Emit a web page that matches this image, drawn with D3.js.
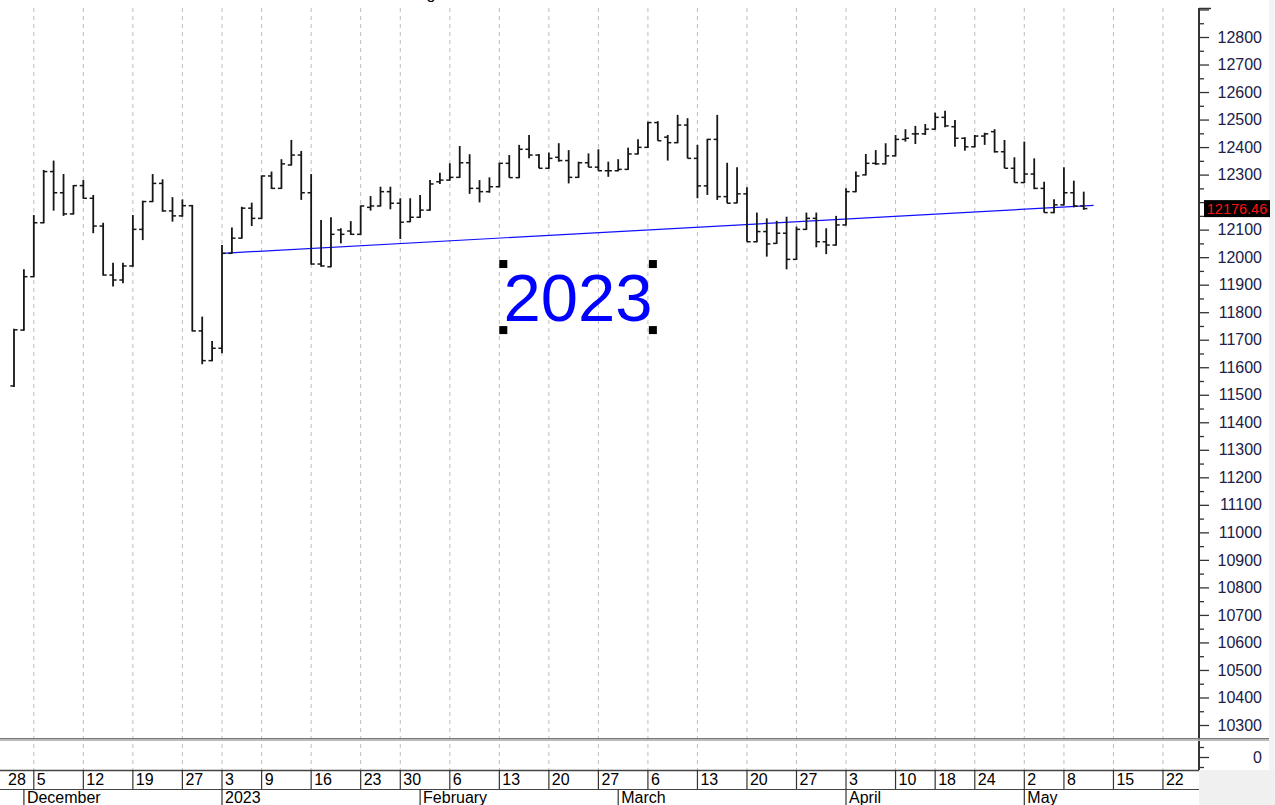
<!DOCTYPE html>
<html lang="en">
<head>
<meta charset="UTF-8">
<title>Daily bars Dec 2022 - May 2023</title>
<script src="https://cdn.jsdelivr.net/npm/d3@7"></script>
<style>
  body { margin: 0; background: #fff; }
  svg { display: block; font-family: Arial, "Liberation Sans", sans-serif; }
</style>
</head>
<body>
<svg id="chart" width="1275" height="805"></svg>
<script>
// calendar of the date axis: weekdays minus exchange holidays
const firstDay = "2022-11-28", lastDay = "2023-05-26";
const holidays = ["2022-12-01", "2022-12-26", "2023-01-02", "2023-01-24", "2023-04-14", "2023-04-17", "2023-05-01"];
const firstBar = "2022-11-30";

// daily OHLC
const opens = [11532, 11735, 11929, 12125, 12311, 12234, 12157, 12260, 12214, 12113,
  11935, 11917, 11968, 12101, 12202, 12268, 12168, 12150, 12187, 11732,
  11624, 11669, 12014, 12069, 12178, 12141, 12295, 12250, 12335, 12371,
  12234, 11975, 11965, 12099, 12095, 12083, 12181, 12186, 12238, 12196,
  12129, 12145, 12171, 12274, 12280, 12290, 12343, 12250, 12238, 12256,
  12341, 12289, 12392, 12371, 12323, 12363, 12351, 12290, 12343, 12327,
  12314, 12314, 12319, 12375, 12399, 12489, 12436, 12416, 12480, 12359,
  12259, 12428, 12220, 12197, 12230, 12056, 12093, 12050, 12087, 11992,
  12101, 12141, 12056, 12044, 12117, 12238, 12299, 12341, 12339, 12368,
  12428, 12448, 12448, 12465, 12508, 12474, 12432, 12401, 12440, 12456,
  12383, 12323, 12271, 12302, 12250, 12162, 12190, 12234, 12186];
const highs = [11740, 11956, 12153, 12317, 12351, 12302, 12262, 12280, 12226, 12125,
  11980, 11980, 12153, 12205, 12302, 12283, 12218, 12210, 12190, 11784,
  11695, 12044, 12108, 12183, 12198, 12297, 12311, 12356, 12426, 12386,
  12302, 12135, 12145, 12105, 12131, 12188, 12222, 12256, 12256, 12214,
  12214, 12226, 12280, 12307, 12341, 12404, 12374, 12280, 12290, 12343,
  12371, 12408, 12444, 12375, 12380, 12414, 12389, 12347, 12377, 12392,
  12347, 12356, 12398, 12428, 12492, 12494, 12444, 12517, 12505, 12408,
  12430, 12517, 12343, 12327, 12254, 12162, 12141, 12132, 12147, 12111,
  12162, 12162, 12105, 12150, 12250, 12311, 12375, 12389, 12414, 12444,
  12465, 12477, 12484, 12525, 12532, 12498, 12436, 12444, 12452, 12465,
  12426, 12363, 12420, 12359, 12274, 12210, 12327, 12278, 12238];
const lows = [11528, 11733, 11927, 12123, 12169, 12150, 12155, 12212, 12087, 11933,
  11893, 11905, 11965, 12062, 12200, 12165, 12129, 12147, 11730, 11611,
  11622, 11651, 12012, 12067, 12113, 12139, 12248, 12248, 12333, 12208,
  11973, 11965, 11963, 12050, 12081, 12081, 12169, 12184, 12174, 12066,
  12127, 12143, 12169, 12266, 12278, 12288, 12230, 12199, 12234, 12254,
  12289, 12287, 12359, 12323, 12321, 12347, 12268, 12288, 12327, 12314,
  12292, 12312, 12317, 12373, 12397, 12423, 12351, 12414, 12359, 12214,
  12226, 12208, 12196, 12196, 12056, 12054, 12002, 12048, 11956, 11990,
  12099, 12036, 12011, 12042, 12115, 12236, 12297, 12335, 12337, 12366,
  12420, 12411, 12444, 12463, 12472, 12401, 12387, 12399, 12408, 12380,
  12323, 12271, 12269, 12247, 12162, 12160, 12188, 12181, 12172];
const closes = [11736, 11929, 12125, 12311, 12234, 12157, 12260, 12214, 12113, 11935,
  11917, 11968, 12101, 12202, 12268, 12168, 12150, 12187, 11732, 11624,
  11669, 12014, 12069, 12178, 12141, 12295, 12250, 12339, 12371, 12234,
  11975, 11968, 12083, 12083, 12083, 12186, 12186, 12238, 12196, 12127,
  12145, 12171, 12266, 12280, 12290, 12343, 12250, 12238, 12256, 12341,
  12289, 12392, 12371, 12323, 12359, 12351, 12290, 12343, 12327, 12314,
  12314, 12319, 12375, 12399, 12489, 12423, 12416, 12480, 12359, 12259,
  12428, 12220, 12196, 12230, 12056, 12093, 12048, 12087, 11992, 12101,
  12141, 12056, 12044, 12117, 12238, 12295, 12341, 12339, 12368, 12428,
  12432, 12448, 12465, 12508, 12477, 12432, 12401, 12440, 12448, 12383,
  12323, 12271, 12302, 12250, 12162, 12190, 12234, 12186, 12176.46];

// date axis labels
const weekStarts = ["2022-11-28", "2022-12-05", "2022-12-12", "2022-12-19", "2022-12-27", "2023-01-03",
  "2023-01-09", "2023-01-16", "2023-01-23", "2023-01-30", "2023-02-06", "2023-02-13", "2023-02-20",
  "2023-02-27", "2023-03-06", "2023-03-13", "2023-03-20", "2023-03-27", "2023-04-03", "2023-04-10",
  "2023-04-18", "2023-04-24", "2023-05-02", "2023-05-08", "2023-05-15", "2023-05-22"];
const weekLabels = ["28", "5", "12", "19", "27", "3", "9", "16", "23", "30", "6", "13", "20",
  "27", "6", "13", "20", "27", "3", "10", "18", "24", "2", "8", "15", "22"];
const monthStarts = ["2022-12-02", "2023-01-03", "2023-02-01", "2023-03-01", "2023-04-03", "2023-05-02"];
const monthLabels = ["December", "2023", "February", "March", "April", "May"];

// price axis
const priceTicks = d3.range(10300, 12901, 100);
const priceMinor = d3.range(10350, 12901, 100);

// drawn objects: trend line and the selected text box
const trendFrom = ["2023-01-03", 12014], trendTo = ["2023-05-11", 12188];
const note = { text: "2023", fromBar: 49.4, toBar: 64.5, top: 11975, bottom: 11735 };

const W = 1275, H = 805;
const axisX = 1199, paneTop = 8, paneBottom = 738, lowerBottom = 770, dayRowBottom = 789;
const step = 9.905, firstBarX = 14;

const svg = d3.select("#chart");

const fmt = d3.utcFormat("%Y-%m-%d");
const days = d3.utcDays(new Date(firstDay), d3.utcDay.offset(new Date(lastDay), 1))
  .filter(d => d.getUTCDay() % 6 !== 0)
  .map(fmt)
  .filter(s => !holidays.includes(s));
const dayIndex = new Map(days.map((s, i) => [s, i]));
const i0 = dayIndex.get(firstBar);

const x = d3.scaleLinear().domain([i0, i0 + 1]).range([firstBarX, firstBarX + step]);
const y = d3.scaleLinear().domain([10300, 12800]).range([725, 37]);
const y2 = d3.scaleLinear().domain([-1, 1]).range([767, 747]);
const xd = s => x(dayIndex.get(s));

const bars = opens.map((o, k) => ({ i: i0 + k, o, h: highs[k], l: lows[k], c: closes[k] }));

// backgrounds
svg.append("rect").attr("width", W).attr("height", H).attr("fill", "#fff");
svg.append("rect").attr("x", axisX).attr("y", lowerBottom).attr("width", W - axisX).attr("height", H - lowerBottom)
  .attr("fill", "#f0f0f0");
svg.append("rect").attr("x", 1269).attr("y", 0).attr("width", W - 1269).attr("height", lowerBottom)
  .attr("fill", "#f3f3f3");

// top title (cut off by the window edge in the original too)
svg.append("text").attr("x", 431).attr("y", -1).attr("text-anchor", "middle")
  .attr("font-size", 16).attr("fill", "#000").text("g");

// week grid
svg.append("g").selectAll("line").data(weekStarts).join("line")
  .attr("x1", d => xd(d)).attr("x2", d => xd(d))
  .attr("y1", paneTop).attr("y2", lowerBottom)
  .attr("stroke", "#bdbdbd").attr("stroke-width", 1).attr("stroke-dasharray", "4,4");

// trend line
svg.append("line")
  .attr("x1", xd(trendFrom[0])).attr("y1", y(trendFrom[1]))
  .attr("x2", xd(trendTo[0])).attr("y2", y(trendTo[1]))
  .attr("stroke", "#1010ff").attr("stroke-width", 1.2);

// OHLC bars
const gb = svg.append("g").attr("stroke", "#161616");
gb.selectAll(".hl").data(bars).join("line")
  .attr("x1", d => x(d.i)).attr("x2", d => x(d.i))
  .attr("y1", d => y(d.h)).attr("y2", d => y(d.l))
  .attr("stroke-width", 1.8);
gb.selectAll(".op").data(bars).join("line")
  .attr("x1", d => x(d.i) - 3.6).attr("x2", d => x(d.i))
  .attr("y1", d => y(d.o)).attr("y2", d => y(d.o))
  .attr("stroke-width", 1.5);
gb.selectAll(".cl").data(bars).join("line")
  .attr("x1", d => x(d.i)).attr("x2", d => x(d.i) + 3.6)
  .attr("y1", d => y(d.c)).attr("y2", d => y(d.c))
  .attr("stroke-width", 1.5);

// text annotation with selection handles
const nx0 = x(i0 + note.fromBar), nx1 = x(i0 + note.toBar);
const ny0 = y(note.top), ny1 = y(note.bottom);
const noteSize = 67;
svg.append("text").attr("x", (nx0 + nx1) / 2).attr("y", (ny0 + ny1) / 2 + noteSize * 0.358)
  .attr("text-anchor", "middle").attr("font-size", noteSize).attr("fill", "#0000ff")
  .text(note.text);
svg.append("g").selectAll("rect").data([[nx0, ny0], [nx1, ny0], [nx0, ny1], [nx1, ny1]]).join("rect")
  .attr("x", d => d[0] - 4).attr("y", d => d[1] - 4).attr("width", 8).attr("height", 8)
  .attr("fill", "#000");

// right price axis
const ya = svg.append("g").attr("transform", `translate(${axisX},0)`);
const lastClose = closes[closes.length - 1];
ya.call(d3.axisRight(y).tickValues(priceTicks).tickSize(10).tickSizeOuter(0)
  .tickFormat(d => d <= 12800 ? d : ""));
ya.select(".domain").remove();
ya.selectAll("text").attr("x", 1262 - axisX).attr("text-anchor", "end")
  .attr("font-size", 16).attr("fill", "#20204a").attr("font-family", "Arial, 'Liberation Sans', sans-serif")
  .filter(d => Math.abs(y(d) - y(lastClose)) < 14).remove();
ya.selectAll(".tick line").attr("stroke", "#333").attr("stroke-width", 1.3);
const ym = svg.append("g").attr("transform", `translate(${axisX},0)`)
  .call(d3.axisRight(y).tickValues(priceMinor).tickSize(5).tickFormat(""));
ym.select(".domain").remove();
ym.selectAll(".tick line").attr("stroke", "#333").attr("stroke-width", 1.3);

// lower pane axis
const ya2 = svg.append("g").attr("transform", `translate(${axisX},0)`)
  .call(d3.axisRight(y2).tickValues([0]).tickSize(10).tickSizeOuter(0).tickFormat(d3.format("d")));
ya2.select(".domain").remove();
ya2.selectAll("text").attr("x", 1262 - axisX).attr("text-anchor", "end")
  .attr("font-size", 16).attr("fill", "#20204a").attr("font-family", "Arial, 'Liberation Sans', sans-serif");
ya2.selectAll(".tick line").attr("stroke", "#333").attr("stroke-width", 1.3);
const ym2 = svg.append("g").attr("transform", `translate(${axisX},0)`)
  .call(d3.axisRight(y2).tickValues([-1, 1]).tickSize(5).tickFormat(""));
ym2.select(".domain").remove();
ym2.selectAll(".tick line").attr("stroke", "#333").attr("stroke-width", 1.3);

svg.append("line").attr("x1", axisX).attr("x2", axisX).attr("y1", paneTop).attr("y2", lowerBottom)
  .attr("stroke", "#333").attr("stroke-width", 2);
svg.append("line").attr("x1", axisX).attr("x2", axisX + 12).attr("y1", paneTop + 0.5).attr("y2", paneTop + 0.5)
  .attr("stroke", "#333").attr("stroke-width", 1.5);

// last price tag
const ty = y(lastClose);
svg.append("rect").attr("x", 1204).attr("y", ty - 8.5).attr("width", 66).attr("height", 17).attr("fill", "#000");
svg.append("text").attr("x", 1237).attr("y", ty + 5).attr("text-anchor", "middle")
  .attr("font-size", 14.5).attr("fill", "#ff1010").text(d3.format(".2f")(lastClose));

// pane separator
svg.append("rect").attr("x", 0).attr("y", paneBottom).attr("width", 1269).attr("height", 1.5).attr("fill", "#777");
svg.append("rect").attr("x", 0).attr("y", paneBottom + 1.5).attr("width", 1269).attr("height", 1.5).attr("fill", "#bbb");

// date axis: week row and month row
const gd = svg.append("g");
gd.append("rect").attr("x", 0).attr("y", lowerBottom).attr("width", axisX).attr("height", H - lowerBottom).attr("fill", "#fff");
gd.append("line").attr("x1", 0).attr("x2", axisX).attr("y1", lowerBottom + 0.5).attr("y2", lowerBottom + 0.5)
  .attr("stroke", "#444").attr("stroke-width", 1.5);
gd.append("line").attr("x1", 0).attr("x2", axisX).attr("y1", dayRowBottom + 0.5).attr("y2", dayRowBottom + 0.5)
  .attr("stroke", "#444").attr("stroke-width", 1.2);
gd.selectAll(".wk").data(weekStarts).join("line")
  .attr("x1", d => xd(d)).attr("x2", d => xd(d)).attr("y1", lowerBottom).attr("y2", dayRowBottom)
  .attr("stroke", "#333").attr("stroke-width", 1.2);
gd.selectAll(".wkt").data(weekStarts).join("text")
  .attr("x", d => Math.max(xd(d), 5) + 3).attr("y", dayRowBottom - 4)
  .attr("font-size", 16).attr("fill", "#000")
  .text((d, k) => weekLabels[k]);
gd.selectAll(".mo").data(monthStarts).join("line")
  .attr("x1", d => xd(d)).attr("x2", d => xd(d)).attr("y1", dayRowBottom).attr("y2", H)
  .attr("stroke", "#333").attr("stroke-width", 1.2);
gd.selectAll(".mot").data(monthStarts).join("text")
  .attr("x", d => xd(d) + 3).attr("y", H - 2)
  .attr("font-size", 16).attr("fill", "#000")
  .text((d, k) => monthLabels[k]);
</script>
</body>
</html>
